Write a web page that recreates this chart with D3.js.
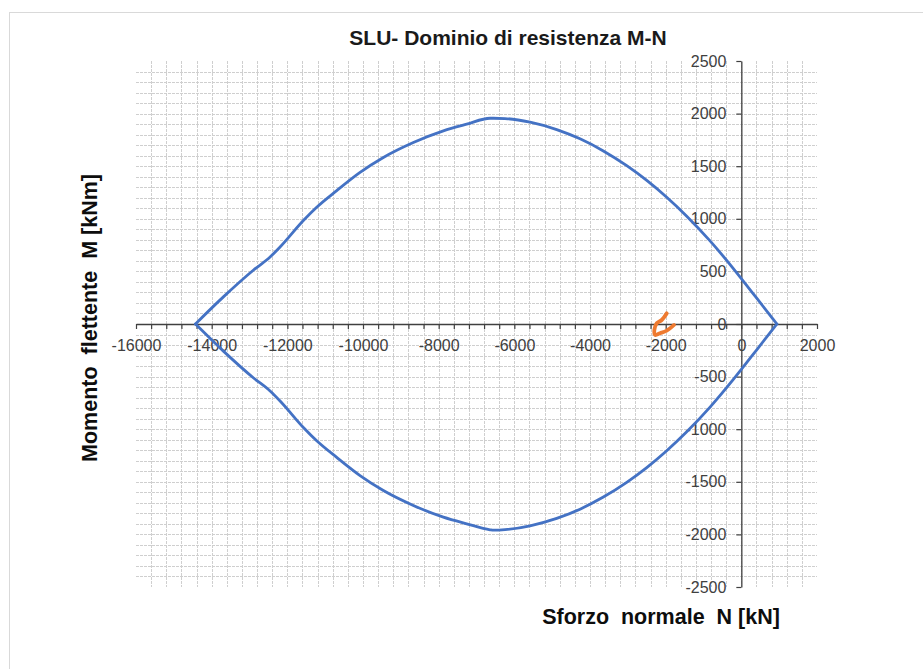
<!DOCTYPE html>
<html>
<head>
<meta charset="utf-8">
<script src="https://cdn.jsdelivr.net/npm/d3@7/dist/d3.min.js"></script>
<style>
  html, body { margin: 0; padding: 0; background: #ffffff; }
  svg { display: block; }
  text { font-family: "Liberation Sans", Arial, sans-serif; }
</style>
</head>
<body>
<svg id="chart" width="923" height="669"></svg>
<script>
// Axial force N [kN] sampled along the M-N interaction boundary
const axialN = [-14430, -13690, -12900, -12456, -12192, -11576, -11224, -10695, -10078, -9462,
  -8669, -7876, -7260, -6642, -6555, -6245, -5585, -4880, -4263, -3647,
  -3029, -2500, -1972, -1443, -827, -211, 0, 407, 940];
// Resisting moment M [kNm], positive branch
const momentUpper = [0, 258, 511, 637, 732, 984, 1110, 1268, 1441, 1583,
  1725, 1836, 1899, 1956, 1956, 1953, 1918, 1848, 1760, 1645,
  1505, 1365, 1205, 1025, 790, 527, 432, 245, 0];
// Resisting moment M [kNm], negative branch
const momentLower = [0, -258, -511, -637, -732, -984, -1110, -1268, -1441, -1583,
  -1725, -1836, -1899, -1956, -1960, -1955, -1918, -1848, -1760, -1645,
  -1505, -1365, -1205, -1025, -790, -527, -432, -245, 0];

// Hand-drawn check mark on the N axis (N, M)
const markN = [-1972, -2104, -2236, -2299, -2281, -2149, -1972, -1779];
const markM = [101, 38, 7, -57, -104, -88, -63, -9];

// Axis ticks
const xLabelTicks = d3.range(-16000, 2001, 2000);
const xMinorTicks = d3.range(-16000, 2001, 400);
const yTicks = d3.range(-2500, 2501, 500);
const xGrid = d3.range(-15600, 1601, 400);
const yGrid = d3.range(-2400, 2401, 100).filter(v => v !== 0);

const svg = d3.select("#chart");

// chart frame
svg.append("rect")
  .attr("x", 9.5).attr("y", 12.5)
  .attr("width", 940).attr("height", 700)
  .attr("fill", "#ffffff")
  .attr("stroke", "#d9d9d9").attr("stroke-width", 1);

const x = d3.scaleLinear().domain([-16000, 2000]).range([136, 817]);
const y = d3.scaleLinear().domain([-2500, 2500]).range([587, 61]);

// grid
const grid = svg.append("g").attr("stroke", "#cfcfcf").attr("stroke-width", 1)
  .attr("stroke-dasharray", "3,1").attr("fill", "none");
grid.selectAll("line.h").data(yGrid).join("line").attr("class", "h")
  .attr("x1", x(-16000)).attr("x2", x(2000))
  .attr("y1", d => Math.round(y(d)) + 0.5).attr("y2", d => Math.round(y(d)) + 0.5);
grid.selectAll("line.v").data(xGrid).join("line").attr("class", "v")
  .attr("y1", y(2500)).attr("y2", y(-2500))
  .attr("x1", d => Math.round(x(d)) + 0.5).attr("x2", d => Math.round(x(d)) + 0.5);

// axes crossing at the origin
const plain = d => String(d);
const xAxis = d3.axisBottom(x)
  .tickValues(xMinorTicks)
  .tickFormat(d => (xLabelTicks.includes(d) ? plain(d) : ""))
  .tickSize(5).tickSizeOuter(0).tickPadding(11);
const gx = svg.append("g").attr("transform", `translate(0,${y(0)})`).call(xAxis);

const yAxis = d3.axisLeft(y)
  .tickValues(yTicks)
  .tickFormat(plain)
  .tickSize(5).tickSizeOuter(0).tickPadding(10);
const gy = svg.append("g").attr("transform", `translate(${x(0)},0)`).call(yAxis);

[gx, gy].forEach(g => {
  g.select(".domain").attr("stroke", "#404040").attr("stroke-width", 1.3);
  g.selectAll(".tick line").attr("stroke", "#404040").attr("stroke-width", 1.2);
  g.selectAll(".tick text").attr("fill", "#404040")
    .style("font-size", "16px").style("font-family", "'Liberation Sans', Arial, sans-serif");
});

// interaction domain: positive and negative branches, smoothed
const line = d3.line().x(d => x(d[0])).y(d => y(d[1])).curve(d3.curveMonotoneX);
[momentUpper, momentLower].forEach(branch => {
  svg.append("path")
    .attr("d", line(axialN.map((n, i) => [n, branch[i]])))
    .attr("fill", "none")
    .attr("stroke", "#4472C4")
    .attr("stroke-width", 2.8)
    .attr("stroke-linecap", "round")
    .attr("stroke-linejoin", "round");
});

// pen mark
const markLine = d3.line().x(d => x(d[0])).y(d => y(d[1])).curve(d3.curveCatmullRom);
svg.append("path")
  .attr("d", markLine(markN.map((n, i) => [n, markM[i]])))
  .attr("fill", "none")
  .attr("stroke", "#EE7A30")
  .attr("stroke-width", 3.8)
  .attr("stroke-linecap", "round")
  .attr("stroke-linejoin", "round");

// titles
svg.append("text")
  .attr("x", 508).attr("y", 45)
  .attr("text-anchor", "middle")
  .style("font-size", "21px").style("font-weight", "bold")
  .attr("fill", "#1a1a1a")
  .text("SLU- Dominio di resistenza M-N");

svg.append("text")
  .attr("transform", "translate(97,318) rotate(-90)")
  .attr("text-anchor", "middle")
  .style("font-size", "21.5px").style("font-weight", "bold")
  .style("white-space", "pre")
  .attr("fill", "#0d0d0d")
  .text("Momento  flettente  M [kNm]");

svg.append("text")
  .attr("x", 661).attr("y", 624)
  .attr("text-anchor", "middle")
  .style("font-size", "21.5px").style("font-weight", "bold")
  .style("white-space", "pre")
  .attr("fill", "#0d0d0d")
  .text("Sforzo  normale  N [kN]");
</script>
</body>
</html>
